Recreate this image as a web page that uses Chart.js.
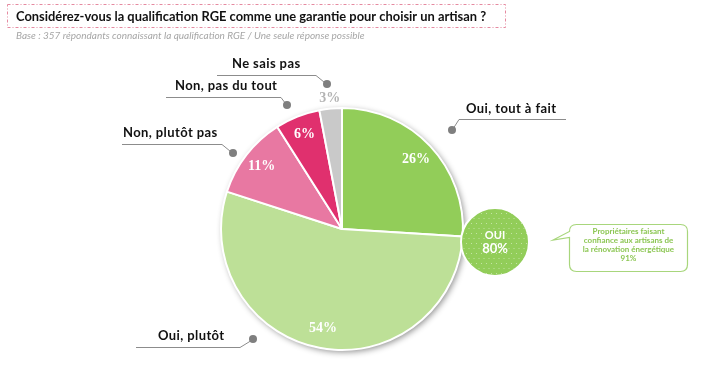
<!DOCTYPE html>
<html>
<head>
<meta charset="utf-8">
<script src="https://cdn.jsdelivr.net/npm/chart.js@4/dist/chart.umd.min.js"></script>
<style>
html,body{margin:0;padding:0;background:#fff;}
#c{display:block;}
</style>
</head>
<body>
<canvas id="c" width="718" height="365"></canvas>
<script>
// ---- Data ----
const categories = ["Oui, tout à fait", "Oui, plutôt", "Non, plutôt pas", "Non, pas du tout", "Ne sais pas"];
const values = [26, 54, 11, 6, 3];
const ouiTotal = [80];
const trustShare = [91];
const titleText = ["Considérez-vous la qualification RGE comme une garantie pour choisir un artisan ?"];
const subtitleText = ["Base : 357 répondants connaissant la qualification RGE / Une seule réponse possible"];
const calloutLines = ["Propriétaires faisant", "confiance aux artisans de", "la rénovation énergétique"];

// ---- Styles ----
const sliceColors = ["#92cd59", "#bde097", "#e878a2", "#e0306e", "#c9c9c9"];

const shadowPlugin = {
  id: 'shadow',
  beforeDatasetsDraw(chart) {
    const arc = chart.getDatasetMeta(0).data[0];
    if (!arc) return;
    const {x, y, outerRadius} = arc.getProps(['x','y','outerRadius'], true);
    const ctx = chart.ctx;
    ctx.save();
    ctx.shadowColor = 'rgba(0,0,0,0.45)';
    ctx.shadowBlur = 6;
    ctx.shadowOffsetX = 2;
    ctx.shadowOffsetY = 2;
    ctx.fillStyle = '#ffffff';
    ctx.beginPath();
    ctx.arc(x, y, outerRadius, 0, Math.PI*2);
    ctx.fill();
    ctx.restore();
  }
};

const decorPlugin = {
  id: 'decor',
  afterDatasetsDraw(chart) {
    const ctx = chart.ctx;
    const meta = chart.getDatasetMeta(0);
    // percentage labels
    meta.data.forEach((arc, i) => {
      const p = arc.getProps(['x','y','startAngle','endAngle','outerRadius'], true);
      const mid = (p.startAngle + p.endAngle) / 2;
      const inside = values[i] >= 5;
      const r = inside ? p.outerRadius * 0.84 : p.outerRadius + 10;
      const lx = p.x + Math.cos(mid) * r;
      const ly = p.y + Math.sin(mid) * r;
      ctx.save();
      ctx.font = 'bold 14px "Liberation Serif", "DejaVu Serif", serif';
      ctx.fillStyle = inside ? '#ffffff' : '#b3b3b3';
      ctx.textAlign = 'center';
      ctx.textBaseline = 'middle';
      ctx.fillText(values[i] + '%', lx, ly);
      ctx.restore();
    });

    // Title box
    ctx.save();
    ctx.strokeStyle = '#e58aa0';
    ctx.lineWidth = 1;
    ctx.setLineDash([3, 2, 1, 2]);
    ctx.strokeRect(7.5, 4.5, 498, 23);
    ctx.setLineDash([]);
    ctx.fillStyle = '#111111';
    ctx.font = 'bold 12.9px Lato, "Open Sans", sans-serif';
    ctx.textBaseline = 'middle';
    ctx.textAlign = 'left';
    ctx.fillText(titleText[0], 16, 16.5);
    ctx.fillStyle = '#a6a6a6';
    ctx.font = 'italic 10px Lato, "Open Sans", sans-serif';
    ctx.fillText(subtitleText[0], 16, 36);
    ctx.restore();

    // Leader lines
    const leaders = [
      {i:0, dot:[452,130], pts:[[452,130],[459,119],[566,119]], tx:466, ty:109},
      {i:1, dot:[253,339], pts:[[253,339],[240,347],[136,347]], tx:158, ty:336},
      {i:2, dot:[233,153], pts:[[233,153],[222,144],[122,144]], tx:123, ty:133},
      {i:3, dot:[287,105], pts:[[287,105],[281,97],[166,97]], tx:175, ty:86},
      {i:4, dot:[327,84], pts:[[327,84],[316,75],[217,75]], tx:232, ty:64}
    ];
    leaders.forEach(l => {
      ctx.save();
      ctx.strokeStyle = '#8c8c8c';
      ctx.lineWidth = 1;
      ctx.beginPath();
      l.pts.forEach((pt, k) => k ? ctx.lineTo(pt[0], pt[1] + 0.5) : ctx.moveTo(pt[0], pt[1] + 0.5));
      ctx.stroke();
      ctx.fillStyle = '#7f7f7f';
      ctx.beginPath();
      ctx.arc(l.dot[0], l.dot[1], 4, 0, Math.PI*2);
      ctx.fill();
      ctx.fillStyle = '#111111';
      ctx.font = 'bold 13px Lato, "Open Sans", sans-serif';
      ctx.letterSpacing = '0.4px';
      ctx.textAlign = 'left';
      ctx.textBaseline = 'middle';
      ctx.fillText(categories[l.i], l.tx, l.ty);
      ctx.restore();
    });

    // OUI circle
    const cx = 495, cy = 242, cr = 34;
    ctx.save();
    ctx.beginPath();
    ctx.arc(cx, cy, cr, 0, Math.PI*2);
    ctx.fillStyle = '#92cd59';
    ctx.fill();
    ctx.lineWidth = 2;
    ctx.strokeStyle = '#ffffff';
    ctx.stroke();
    ctx.clip();
    ctx.fillStyle = 'rgba(255,255,255,0.45)';
    for (let yy = cy - cr; yy <= cy + cr; yy += 5) {
      const row = Math.round((yy - cy) / 5);
      for (let xx = cx - cr + (row % 2 ? 2.5 : 0); xx <= cx + cr; xx += 5) {
        ctx.fillRect(xx, yy, 1, 1);
      }
    }
    ctx.restore();
    ctx.save();
    ctx.fillStyle = '#ffffff';
    ctx.font = 'bold 11px Lato, "Open Sans", sans-serif';
    ctx.textAlign = 'center';
    ctx.textBaseline = 'middle';
    ctx.fillText('OUI', cx, cy - 7);
    ctx.font = 'bold 13px Lato, "Open Sans", sans-serif';
    ctx.fillText(ouiTotal[0] + '%', cx, cy + 7);
    ctx.restore();

    // Callout speech bubble
    ctx.save();
    const bx = 569.5, by = 224.5, bw = 118, bh = 47, rr = 7;
    ctx.strokeStyle = '#a8d67c';
    ctx.lineWidth = 1.2;
    ctx.fillStyle = '#ffffff';
    ctx.beginPath();
    ctx.moveTo(bx + rr, by);
    ctx.lineTo(bx + bw - rr, by);
    ctx.quadraticCurveTo(bx + bw, by, bx + bw, by + rr);
    ctx.lineTo(bx + bw, by + bh - rr);
    ctx.quadraticCurveTo(bx + bw, by + bh, bx + bw - rr, by + bh);
    ctx.lineTo(bx + rr, by + bh);
    ctx.quadraticCurveTo(bx, by + bh, bx, by + bh - rr);
    ctx.lineTo(bx, by + 13);
    ctx.lineTo(553, 240);
    ctx.lineTo(bx, by + 7);
    ctx.lineTo(bx, by + rr);
    ctx.quadraticCurveTo(bx, by, bx + rr, by);
    ctx.closePath();
    ctx.fill();
    ctx.stroke();
    ctx.fillStyle = '#8cc653';
    ctx.font = 'bold 8px Lato, "Open Sans", sans-serif';
    ctx.textAlign = 'center';
    ctx.textBaseline = 'middle';
    const tcx = bx + bw / 2;
    calloutLines.forEach((t, k) => ctx.fillText(t, tcx, 231 + k * 9));
    ctx.fillText(trustShare[0] + '%', tcx, 258);
    ctx.restore();
  }
};

new Chart(document.getElementById('c'), {
  type: 'pie',
  data: {
    labels: categories,
    datasets: [{
      data: values,
      backgroundColor: sliceColors,
      borderColor: '#ffffff',
      borderWidth: 2
    }]
  },
  options: {
    responsive: false,
    devicePixelRatio: 1,
    animation: false,
    radius: 121,
    layout: { padding: { left: 200, right: 234, top: 100, bottom: 7 } },
    plugins: { legend: { display: false }, tooltip: { enabled: false }, title: { display: false } }
  },
  plugins: [shadowPlugin, decorPlugin]
});
</script>
</body>
</html>
